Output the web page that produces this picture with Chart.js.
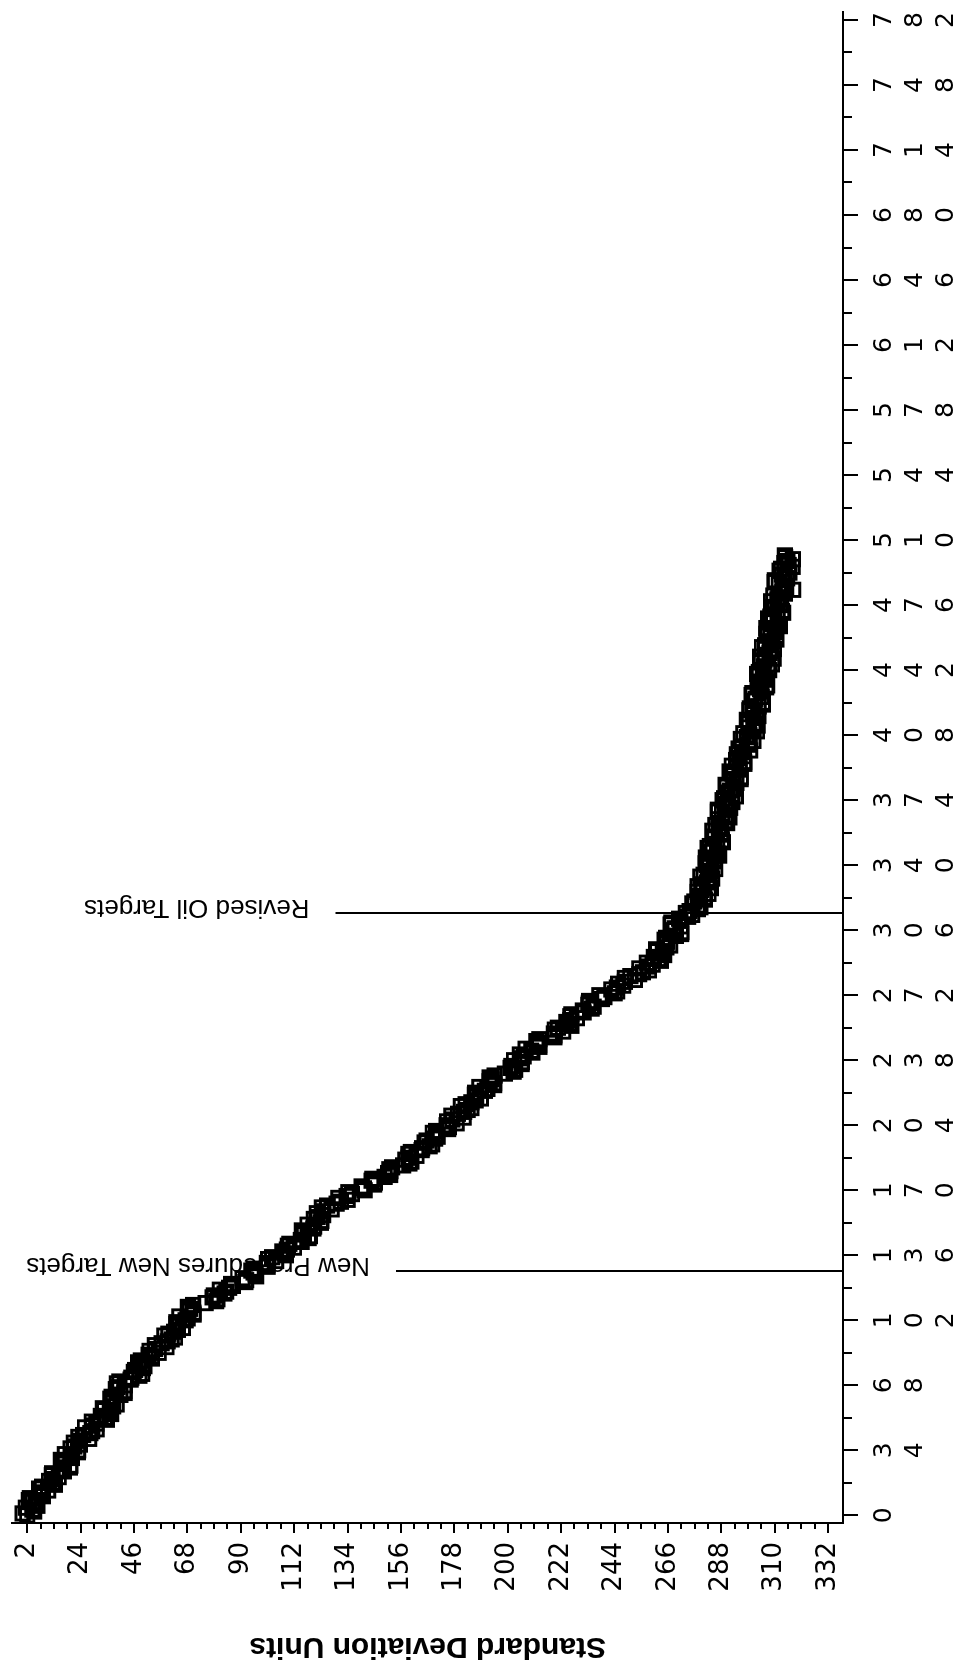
<!DOCTYPE html>
<html>
<head>
<meta charset="utf-8">
<title>Standard Deviation Units</title>
<script src="https://cdn.jsdelivr.net/npm/chart.js@4.4.0/dist/chart.umd.min.js"></script>
<style>
  html, body { margin: 0; padding: 0; background: #fff; overflow: hidden; }
  /* the chart is drawn upright and the whole box turned a quarter left */
  #wrap {
    position: absolute; left: 0; top: 0;
    width: 1667px; height: 964px;
    transform-origin: 0 0;
    transform: translateY(1667px) rotate(-90deg);
  }
</style>
</head>
<body>
<div id="wrap"><canvas id="chart" width="1667" height="964"></canvas></div>
<script>
// ================= DATA =================
const testIndex = [
  0, 1, 2, 3, 4, 5, 6, 7, 8, 9, 10, 11, 12, 13, 14, 15, 16, 17, 18, 19,
  20, 21, 22, 23, 24, 25, 26, 27, 28, 29, 30, 31, 32, 33, 34, 35, 36, 37, 38, 39,
  40, 41, 42, 43, 44, 45, 46, 47, 48, 49, 50, 51, 52, 53, 54, 55, 56, 57, 58, 59,
  60, 61, 62, 63, 64, 65, 66, 67, 68, 69, 70, 71, 72, 73, 74, 75, 76, 77, 78, 79,
  80, 81, 82, 83, 84, 85, 86, 87, 88, 89, 90, 91, 92, 93, 94, 95, 96, 97, 98, 99,
  100, 101, 102, 103, 104, 105, 106, 107, 108, 109, 110, 111, 112, 113, 114, 115, 116, 117, 118, 119,
  120, 121, 122, 123, 124, 125, 126, 127, 128, 129, 130, 131, 132, 133, 134, 135, 136, 137, 138, 139,
  140, 141, 142, 143, 144, 145, 146, 147, 148, 149, 150, 151, 152, 153, 154, 155, 156, 157, 158, 159,
  160, 161, 162, 163, 164, 165, 166, 167, 168, 169, 170, 171, 172, 173, 174, 175, 176, 177, 178, 179,
  180, 181, 182, 183, 184, 185, 186, 187, 188, 189, 190, 191, 192, 193, 194, 195, 196, 197, 198, 199,
  200, 201, 202, 203, 204, 205, 206, 207, 208, 209, 210, 211, 212, 213, 214, 215, 216, 217, 218, 219,
  220, 221, 222, 223, 224, 225, 226, 227, 228, 229, 230, 231, 232, 233, 234, 235, 236, 237, 238, 239,
  240, 241, 242, 243, 244, 245, 246, 247, 248, 249, 250, 251, 252, 253, 254, 255, 256, 257, 258, 259,
  260, 261, 262, 263, 264, 265, 266, 267, 268, 269, 270, 271, 272, 273, 274, 275, 276, 277, 278, 279,
  280, 281, 282, 283, 284, 285, 286, 287, 288, 289, 290, 291, 292, 293, 294, 295, 296, 297, 298, 299,
  300, 301, 302, 303, 304, 305, 306, 307, 308, 309, 310, 311, 312, 313, 314, 315, 316, 317, 318, 319,
  320, 321, 322, 323, 324, 325, 326, 327, 328, 329, 330, 331, 332, 333, 334, 335, 336, 337, 338, 339,
  340, 341, 342, 343, 344, 345, 346, 347, 348, 349, 350, 351, 352, 353, 354, 355, 356, 357, 358, 359,
  360, 361, 362, 363, 364, 365, 366, 367, 368, 369, 370, 371, 372, 373, 374, 375, 376, 377, 378, 379,
  380, 381, 382, 383, 384, 385, 386, 387, 388, 389, 390, 391, 392, 393, 394, 395, 396, 397, 398, 399,
  400, 401, 402, 403, 404, 405, 406, 407, 408, 409, 410, 411, 412, 413, 414, 415, 416, 417, 418, 419,
  420, 421, 422, 423, 424, 425, 426, 427, 428, 429, 430, 431, 432, 433, 434, 435, 436, 437, 438, 439,
  440, 441, 442, 443, 444, 445, 446, 447, 448, 449, 450, 451, 452, 453, 454, 455, 456, 457, 458, 459,
  460, 461, 462, 463, 464, 465, 466, 467, 468, 469, 470, 471, 472, 473, 474, 475, 476, 477, 478, 479,
  480, 481, 482, 483, 484, 485, 486, 487, 488, 489, 490, 491, 492, 493, 494, 495, 496, 497, 498, 499,
  500, 501, 502
];

const sdUnits = [
  2.0, 0.1, 4.9, 4.1, 1.4, 6.2, 5.3, 4.0, 2.7, 3.1, 8.5, 7.9, 7.2, 10.6, 6.9, 8.1, 13.4, 12.3, 11.0, 12.5,
  15.0, 12.1, 12.2, 17.1, 16.5, 19.6, 19.8, 17.1, 16.7, 15.9, 20.4, 20.4, 17.5, 22.9, 23.0, 19.9, 21.4, 23.7, 21.2, 23.7,
  27.5, 23.1, 25.0, 28.0, 28.8, 30.6, 25.8, 28.8, 30.5, 28.6, 34.8, 33.9, 32.3, 36.6, 36.0, 33.7, 33.2, 37.4, 38.8, 37.1,
  37.3, 36.2, 36.8, 40.4, 42.1, 42.0, 38.5, 39.3, 42.2, 38.9, 40.0, 44.6, 44.9, 48.2, 49.4, 45.9, 46.5, 49.7, 50.3, 49.5,
  47.7, 48.8, 53.4, 53.4, 52.0, 56.2, 52.4, 54.7, 59.4, 54.6, 57.4, 59.9, 61.5, 62.9, 58.5, 60.2, 62.5, 64.1, 66.1, 64.1,
  63.4, 63.4, 67.3, 68.1, 64.7, 70.6, 70.5, 68.4, 69.1, 68.2, 70.4, 75.5, 79.9, 80.4, 78.4, 78.9, 83.3, 84.0, 81.4, 85.2,
  86.8, 86.0, 91.9, 92.2, 90.7, 96.3, 96.1, 95.3, 94.4, 95.3, 101.1, 101.0, 100.7, 104.6, 101.3, 102.9, 108.6, 107.9, 107.1, 109.0,
  111.9, 109.4, 110.0, 115.1, 114.7, 118.0, 118.5, 116.0, 115.8, 115.2, 119.9, 120.2, 117.5, 123.0, 123.2, 120.1, 121.7, 123.9, 121.3, 123.7,
  127.4, 123.4, 125.6, 129.5, 131.3, 134.0, 130.2, 133.6, 135.8, 134.3, 141.0, 140.7, 139.8, 145.0, 145.3, 143.9, 144.2, 149.3, 151.5, 150.7,
  151.7, 151.2, 152.4, 156.9, 159.5, 160.3, 157.8, 159.1, 162.4, 159.0, 160.1, 164.5, 164.7, 167.8, 168.9, 165.7, 166.6, 170.1, 171.1, 170.6,
  169.1, 170.5, 175.5, 175.8, 174.8, 178.9, 175.0, 177.2, 181.8, 176.8, 179.5, 182.0, 183.5, 185.0, 180.7, 182.6, 185.0, 186.8, 188.9, 187.0,
  186.4, 186.6, 190.6, 191.6, 188.3, 194.4, 194.4, 192.5, 193.4, 192.5, 194.6, 198.8, 202.4, 203.1, 201.2, 201.5, 205.7, 205.8, 202.6, 205.7,
  206.6, 205.0, 210.2, 209.7, 207.4, 213.0, 212.9, 212.4, 211.8, 213.0, 219.2, 219.2, 219.0, 222.8, 219.4, 220.7, 226.2, 225.3, 224.2, 225.8,
  228.5, 225.8, 226.2, 231.3, 231.0, 234.6, 235.4, 233.2, 233.4, 233.5, 238.8, 239.8, 237.8, 244.1, 245.1, 242.7, 245.0, 247.6, 245.5, 248.3,
  252.4, 248.3, 250.5, 254.2, 255.7, 258.2, 254.2, 257.6, 259.7, 257.3, 263.1, 262.0, 260.2, 264.5, 263.9, 261.6, 261.1, 265.4, 266.9, 265.3,
  265.6, 264.6, 265.3, 269.3, 271.5, 271.6, 268.4, 268.8, 271.3, 267.1, 267.4, 271.1, 270.6, 274.3, 276.0, 273.4, 274.9, 278.4, 279.4, 278.3,
  276.1, 276.9, 281.2, 280.9, 279.2, 282.7, 278.2, 279.8, 283.7, 278.2, 280.3, 282.2, 283.2, 284.2, 279.4, 280.7, 282.6, 283.9, 285.5, 283.0,
  281.9, 281.5, 285.0, 285.4, 281.6, 287.1, 286.6, 284.1, 284.5, 282.4, 283.3, 286.3, 288.7, 288.2, 285.2, 284.7, 288.1, 287.9, 284.3, 287.0,
  287.5, 285.6, 290.4, 289.5, 286.8, 291.3, 290.0, 288.3, 286.6, 286.6, 291.6, 290.7, 289.6, 292.6, 288.5, 289.2, 294.0, 292.4, 290.6, 291.6,
  293.6, 290.2, 289.8, 294.2, 293.1, 296.0, 296.0, 293.0, 292.4, 291.4, 295.6, 295.5, 292.3, 297.5, 297.4, 294.1, 295.4, 297.3, 294.4, 296.5,
  299.9, 295.1, 296.5, 299.2, 299.7, 301.2, 296.1, 298.5, 299.6, 297.1, 302.7, 301.2, 299.1, 303.0, 302.0, 299.4, 298.5, 302.3, 303.3, 301.2,
  301.0, 299.6, 299.8, 303.4, 305.1, 305.1, 301.7, 302.1, 304.6, 300.5, 300.8, 304.5, 304.0, 306.5, 306.9, 303.0, 303.3, 306.1, 306.3, 305.1,
  302.8, 303.5, 307.7, 307.3, 305.5, 308.9, 304.3, 305.8, 309.6, 304.0, 306.0, 307.9, 308.8, 309.7, 304.8, 306.1, 308.0, 309.2, 310.7, 308.2,
  307.0, 306.6, 310.1, 310.5, 306.6, 312.1, 311.5, 309.0, 309.4, 307.3, 308.2, 311.2, 313.5, 313.0, 309.9, 309.3, 312.6, 312.2, 308.5, 311.1,
  311.5, 309.5, 314.2, 313.2, 317.6, 314.7, 313.3, 311.7, 310.0, 310.1, 315.1, 314.1, 313.0, 316.1, 312.0, 312.6, 317.4, 315.8, 314.0, 315.2,
  317.5, 314.3, 314.2
];

const indexTicks = [0, 34, 68, 102, 136, 170, 204, 238, 272, 306, 340, 374, 408, 442, 476, 510, 544, 578, 612, 646, 680, 714, 748, 782];
const sdTicks = [2, 24, 46, 68, 90, 112, 134, 156, 178, 200, 222, 244, 266, 288, 310, 332];

// reference lines: where they stand on the index axis and where they start on the SD axis
const refLineAt = [128, 315];
const refLineFrom = [154, 129];
const refLabels = ["New Procedures New Targets", "Revised Oil Targets"];

const FONT = "'DejaVu Sans', 'Liberation Sans', sans-serif";
const LABEL_FONT = "'Liberation Sans', Arial, sans-serif";

// minor ticks sit evenly between the major ones
function minorBetween(majors, parts) {
  let out = [];
  for (let i = 0; i < majors.length - 1; i++) {
    let step = (majors[i + 1] - majors[i]) / parts;
    for (let k = 1; k < parts; k++) out.push(majors[i] + step * k);
  }
  return out;
}
const indexMinor = minorBetween(indexTicks, 2);
const sdMinor = minorBetween(sdTicks, 4);

// ================= PLUGINS =================
const minorTicks = {
  id: "minorTicks",
  afterDraw(chart) {
    const ctx = chart.ctx;
    const xs = chart.scales.x, ys = chart.scales.y;
    ctx.save();
    ctx.strokeStyle = "#000";
    ctx.lineWidth = 2;
    ctx.beginPath();
    indexMinor.forEach(v => {
      const px = Math.round(xs.getPixelForValue(v));
      ctx.moveTo(px, xs.top);
      ctx.lineTo(px, xs.top + 9);
    });
    sdMinor.forEach(v => {
      const py = Math.round(ys.getPixelForValue(v));
      ctx.moveTo(ys.right, py);
      ctx.lineTo(ys.right - 6, py);
    });
    ctx.stroke();
    ctx.restore();
  }
};

const refLines = {
  id: "refLines",
  afterDatasetsDraw(chart) {
    const ctx = chart.ctx;
    const xs = chart.scales.x, ys = chart.scales.y;
    ctx.save();
    ctx.strokeStyle = "#000";
    ctx.fillStyle = "#000";
    ctx.lineWidth = 2;
    ctx.font = "26px " + LABEL_FONT;
    refLineAt.forEach((at, i) => {
      const px = Math.round(xs.getPixelForValue(at));
      const pyTop = ys.getPixelForValue(refLineFrom[i]);
      ctx.beginPath();
      ctx.moveTo(px, pyTop);
      ctx.lineTo(px, chart.chartArea.bottom);
      ctx.stroke();

      // label reads upward, starting just past the top of the line
      ctx.save();
      ctx.translate(px + 6, pyTop - 26);
      ctx.rotate(-Math.PI / 2);
      ctx.textAlign = "left";
      ctx.textBaseline = "middle";
      ctx.fillText(refLabels[i], 0, 0);
      ctx.restore();
    });
    ctx.restore();
  }
};

// ================= CHART =================
const points = testIndex.map((v, i) => ({ x: v, y: sdUnits[i] }));

new Chart(document.getElementById("chart"), {
  type: "scatter",
  data: {
    datasets: [{
      data: points,
      pointStyle: "rect",
      pointRadius: 9.4,
      pointBorderWidth: 2.9,
      borderColor: "#000",
      backgroundColor: "rgba(0,0,0,0)",
      showLine: false
    }]
  },
  options: {
    responsive: false,
    animation: false,
    devicePixelRatio: 1,
    layout: { padding: { top: 8, right: 7, left: 0, bottom: 0 } },
    plugins: {
      legend: { display: false },
      tooltip: { enabled: false }
    },
    scales: {
      x: {
        type: "linear",
        position: "bottom",
        min: -4,
        max: 786,
        afterBuildTicks: scale => { scale.ticks = indexTicks.map(v => ({ value: v })); },
        afterFit: scale => {
          scale.height = 121;
          scale.paddingLeft = 0;
          scale.paddingRight = 0;
        },
        grid: { drawOnChartArea: false, drawTicks: true, tickLength: 15, color: "#000", lineWidth: 2 },
        border: { display: true, color: "#000", width: 2 },
        ticks: {
          autoSkip: false,
          maxRotation: 0,
          minRotation: 0,
          padding: 11,
          color: "#000",
          font: { family: FONT, size: 25, lineHeight: "31px" },
          callback: v => String(v).split("")
        }
      },
      y: {
        type: "linear",
        position: "left",
        reverse: true,
        min: -4.15,
        max: 338.15,
        afterBuildTicks: scale => { scale.ticks = sdTicks.map(v => ({ value: v })); },
        afterFit: scale => {
          scale.width = 144;
          scale.paddingTop = 0;
          scale.paddingBottom = 0;
        },
        grid: { drawOnChartArea: false, drawTicks: true, tickLength: 10, color: "#000", lineWidth: 2 },
        border: { display: true, color: "#000", width: 2 },
        ticks: {
          autoSkip: false,
          padding: 9,
          color: "#000",
          font: { family: FONT, size: 26 },
          callback: v => String(v)
        },
        title: {
          display: true,
          text: "Standard Deviation Units",
          color: "#000",
          font: { family: LABEL_FONT, size: 30, weight: "bold", lineHeight: 1.2 },
          padding: { top: 3, bottom: 0 }
        }
      }
    }
  },
  plugins: [minorTicks, refLines]
});
</script>
</body>
</html>
